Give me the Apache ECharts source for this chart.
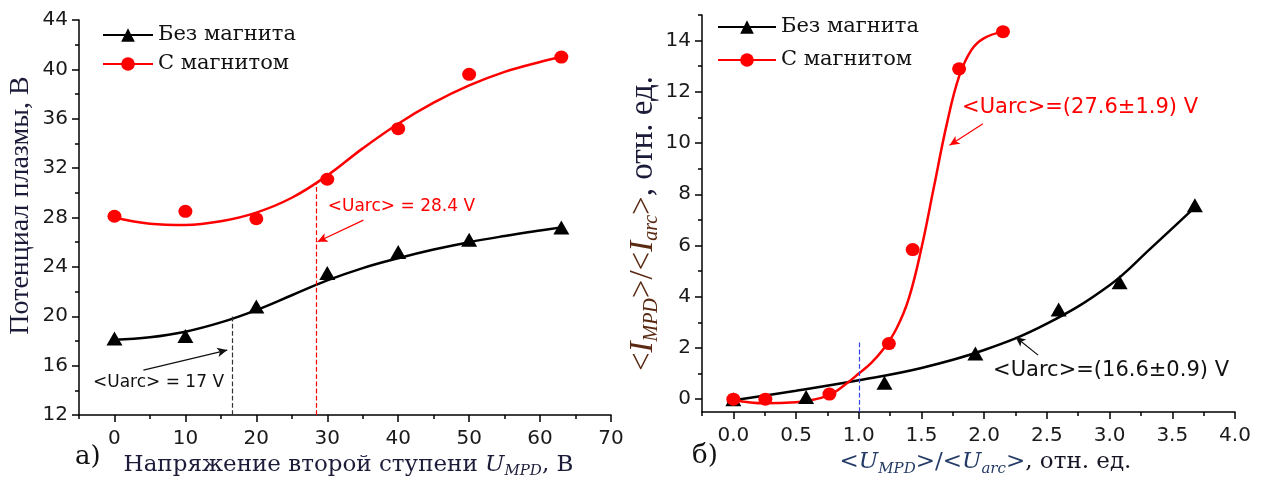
<!DOCTYPE html>
<html><head><meta charset="utf-8">
<script src="https://cdn.jsdelivr.net/npm/echarts@6/dist/echarts.min.js"></script>
<style>html,body{margin:0;padding:0;background:#fff}#c{width:1270px;height:486px}</style>
</head><body><div id="c"></div>
<script>
// ---------- Panel а) ----------
const leftX = [0, 10, 20, 30, 40, 50, 63];
const leftNoMagnet = [18.2, 18.4, 20.8, 23.5, 25.2, 26.2, 27.2];
const leftMagnet = [28.1, 28.5, 27.9, 31.1, 35.2, 39.6, 41.0];
const leftFitX = [0, 5, 10, 15, 20, 25, 30, 35, 40, 45, 50, 55, 60, 63];
const leftFitNoMagnet = [18.1, 18.3, 18.75, 19.5, 20.5, 21.7, 22.9, 23.9, 24.7, 25.4, 26.0, 26.5, 26.95, 27.2];
const leftFitMagnet = [28.0, 27.5, 27.4, 27.7, 28.4, 29.6, 31.4, 33.6, 35.6, 37.3, 38.7, 39.8, 40.6, 41.0];
const leftXTicks = [0, 10, 20, 30, 40, 50, 60, 70];
const leftXMinor = [-5, 5, 15, 25, 35, 45, 55, 65];
const leftYTicks = [12, 16, 20, 24, 28, 32, 36, 40, 44];
const leftYMinor = [14, 18, 22, 26, 30, 34, 38, 42];

// ---------- Panel б) ----------
const rightNoMagnetX = [0, 0.58, 1.205, 1.93, 2.594, 3.08, 3.68];
const rightNoMagnetY = [0.0, 0.09, 0.64, 1.78, 3.50, 4.57, 7.57];
const rightMagnetX = [0, 0.255, 0.766, 1.24, 1.43, 1.80, 2.15];
const rightMagnetY = [0.0, 0.0, 0.2, 2.17, 5.84, 12.9, 14.35];
const rightFitNoMagnetX = [-0.05, 0.5, 1.0, 1.5, 2.0, 2.5, 3.0, 3.33, 3.66];
const rightFitNoMagnetY = [-0.08, 0.33, 0.74, 1.22, 1.92, 2.95, 4.45, 5.9, 7.4];
const rightFitMagnetX = [0, 0.25, 0.5, 0.6, 0.7, 0.8, 0.9, 1.0, 1.1, 1.2, 1.3, 1.4, 1.5, 1.6, 1.7, 1.8, 1.9, 2.0, 2.15];
const rightFitMagnetY = [-0.03, -0.16, -0.12, -0.05, 0.05, 0.25, 0.6, 1.0, 1.42, 1.98, 2.75, 3.95, 5.9, 8.3, 10.7, 12.6, 13.65, 14.1, 14.35];
const rightXTicks = [0, 0.5, 1.0, 1.5, 2.0, 2.5, 3.0, 3.5, 4.0];
const rightXMinor = [-0.25, 0.25, 0.75, 1.25, 1.75, 2.25, 2.75, 3.25, 3.75];
const rightYTicks = [0, 2, 4, 6, 8, 10, 12, 14];
const rightYMinor = [1, 3, 5, 7, 9, 11, 13, 15];

const NAME_NO = 'Без магнита';
const NAME_MAG = 'С магнитом';

const zip = (xs, ys) => xs.map((x, i) => [x, ys[i]]);

const AX = {color: '#000', width: 1.5};
const LBL = {fontFamily: 'DejaVu Sans', fontSize: 20, color: '#1a1a1a'};

function mainAxis(grid, min, max, ticks, dec, margin, extra) {
  return Object.assign({
    gridIndex: grid, type: 'value', min: min, max: max,
    axisLine: {show: true, onZero: false, lineStyle: AX},
    axisTick: {show: true, customValues: ticks, length: 7, lineStyle: AX},
    axisLabel: Object.assign({customValues: ticks, margin: margin,
      formatter: v => dec ? v.toFixed(1) : String(Math.round(v))}, LBL),
    splitLine: {show: false}
  }, extra);
}
function minorAxis(grid, min, max, ticks, pos) {
  return {
    gridIndex: grid, type: 'value', min: min, max: max, position: pos,
    axisLine: {show: false, onZero: false},
    axisTick: {show: true, customValues: ticks, length: 4, lineStyle: AX},
    axisLabel: {show: false}, splitLine: {show: false}
  };
}

const navy = '#1c1c3a';
const option = {
  backgroundColor: '#fff',
  animation: false,
  title: [
    {text: 'а)', left: 70, top: 439, textStyle: {fontFamily: 'DejaVu Serif', fontSize: 26, fontWeight: 'normal', color: '#111'}},
    {text: 'б)', left: 687, top: 438, textStyle: {fontFamily: 'DejaVu Serif', fontSize: 26, fontWeight: 'normal', color: '#111'}}
  ],
  grid: [
    {left: 79, top: 20, width: 532, height: 395},
    {left: 702, top: 15, width: 533, height: 397}
  ],
  legend: [
    {left: 102, top: 24, padding: 0, orient: 'vertical', itemWidth: 50, itemHeight: 17, itemGap: 7,
     data: [NAME_NO, NAME_MAG], textStyle: {fontFamily: 'DejaVu Serif', fontSize: 21, color: '#111', lineHeight: 22}},
    {left: 717, top: 16, padding: 0, orient: 'vertical', itemWidth: 58, itemHeight: 17, itemGap: 11,
     data: [NAME_NO, NAME_MAG], textStyle: {fontFamily: 'DejaVu Serif', fontSize: 21, color: '#111', lineHeight: 22}}
  ],
  xAxis: [
    mainAxis(0, -5, 70, leftXTicks, false, 14, {position: 'bottom',
      name: '{t|Напряжение второй ступени }{i|U}{s|MPD}{t|, В}',
      nameLocation: 'middle', nameGap: 35,
      nameTextStyle: {padding: [0, 0, 0, 7], rich: {
        t: {fontFamily: 'DejaVu Serif', fontSize: 23, color: navy},
        i: {fontFamily: 'DejaVu Serif', fontStyle: 'italic', fontSize: 23, color: navy},
        s: {fontFamily: 'DejaVu Serif', fontStyle: 'italic', fontSize: 15, color: navy, padding: [12, 0, 0, 0]}
      }}}),
    minorAxis(0, -5, 70, leftXMinor, 'bottom'),
    mainAxis(1, -0.25, 4.0, rightXTicks, true, 14, {position: 'bottom',
      name: '{u|<}{i|U}{s|MPD}{u|>/<}{i|U}{s|arc}{u|>}{t|, отн. ед.}',
      nameLocation: 'middle', nameGap: 35,
      nameTextStyle: {padding: [0, 0, 0, 34], rich: {
        t: {fontFamily: 'DejaVu Serif', fontSize: 23, color: '#151525'},
        u: {fontFamily: 'DejaVu Serif', fontSize: 23, color: '#243a66'},
        i: {fontFamily: 'DejaVu Serif', fontStyle: 'italic', fontSize: 23, color: '#243a66'},
        s: {fontFamily: 'DejaVu Serif', fontStyle: 'italic', fontSize: 15, color: '#243a66', padding: [14, 0, 0, 0]}
      }}}),
    minorAxis(1, -0.25, 4.0, rightXMinor, 'bottom')
  ],
  yAxis: [
    mainAxis(0, 12, 44, leftYTicks, false, 11, {position: 'left',
      name: 'Потенциал плазмы, В', nameLocation: 'middle', nameGap: 44, nameRotate: 90,
      nameTextStyle: {fontFamily: 'Liberation Serif', fontSize: 28, color: navy, padding: [0, 0, 0, 24]}}),
    minorAxis(0, 12, 44, leftYMinor, 'left'),
    mainAxis(1, -0.5, 15, rightYTicks, false, 11, {position: 'left',
      name: '{u|<}{i|I}{s|MPD}{u|>/<}{i|I}{s|arc}{u|>}{t|, отн. ед.}',
      nameLocation: 'middle', nameGap: 38, nameRotate: 90,
      nameTextStyle: {padding: [0, 20, 0, 0], rich: {
        t: {fontFamily: 'Liberation Serif', fontSize: 33, color: '#1c1c3a'},
        u: {fontFamily: 'Liberation Serif', fontSize: 33, color: '#5a2a12'},
        i: {fontFamily: 'Liberation Serif', fontStyle: 'italic', fontSize: 33, color: '#5a2a12'},
        s: {fontFamily: 'Liberation Serif', fontStyle: 'italic', fontSize: 20, color: '#5a2a12', padding: [16, 0, 0, 0]}
      }}}),
    minorAxis(1, -0.5, 15, rightYMinor, 'left')
  ],
  series: []
};

function annText(coord, text, color, size) {
  return {coord: coord, symbol: 'circle', symbolSize: 1, itemStyle: {color: 'rgba(0,0,0,0)'},
    label: {show: true, position: 'right', distance: 0, formatter: text, color: color,
      fontFamily: 'DejaVu Sans', fontSize: size}};
}
function arrow(from, to) {
  return [{coord: from, symbol: 'none'}, {coord: to, symbol: 'arrow', symbolSize: [7, 10]}];
}
function vline(x, y0, y1) {
  return [{coord: [x, y0], symbol: 'none'}, {coord: [x, y1], symbol: 'none'}];
}

function panelSeries(xi, yi, fitNo, ptsNo, fitMag, ptsMag, noMarks, magMarks) {
  return [
    {name: NAME_NO, type: 'line', xAxisIndex: xi, yAxisIndex: yi, data: fitNo, smooth: 0.4,
     symbol: 'triangle', symbolSize: [16, 14], showSymbol: false, color: '#000',
     lineStyle: {color: '#000', width: 2.5}, itemStyle: {color: '#000'}, z: 3,
     markLine: noMarks.line, markPoint: noMarks.point},
    {name: NAME_NO, type: 'scatter', xAxisIndex: xi, yAxisIndex: yi, data: ptsNo,
     symbol: 'triangle', symbolSize: [16, 14], itemStyle: {color: '#000', opacity: 1}, z: 4},
    {name: NAME_MAG, type: 'line', xAxisIndex: xi, yAxisIndex: yi, data: fitMag, smooth: 0.4,
     symbol: 'circle', symbolSize: 13, showSymbol: false, color: '#ff0000',
     lineStyle: {color: '#ff0000', width: 2.5}, itemStyle: {color: '#ff0000'}, z: 3,
     markLine: magMarks.line, markPoint: magMarks.point},
    {name: NAME_MAG, type: 'scatter', xAxisIndex: xi, yAxisIndex: yi, data: ptsMag,
     symbol: 'circle', symbolSize: [14, 13], itemStyle: {color: '#ff0000', opacity: 1}, z: 4}
  ];
}
const mlBase = (color, data, type) => ({silent: true, animation: false, symbol: ['none', 'none'],
  label: {show: false}, lineStyle: {color: color, width: 1.2, type: type || 'solid'}, data: data});

const leftSeries = panelSeries(0, 0,
  zip(leftFitX, leftFitNoMagnet), zip(leftX, leftNoMagnet),
  zip(leftFitX, leftFitMagnet), zip(leftX, leftMagnet),
  {line: mlBase('#333', [vline(16.6, 12, 20.0)], 'dashed'),
   point: {silent: true, animation: false, data: [annText([-3.1, 14.66], '<Uarc> = 17 V', '#111', 17)]}},
  {line: mlBase('#ff0000', [vline(28.4, 12, 30.8)], 'dashed'),
   point: {silent: true, animation: false, data: [annText([30.0, 28.9], '<Uarc> = 28.4 V', '#ff0000', 17)]}}
);
leftSeries[1].markLine = mlBase('#111', [arrow([4.08, 15.64], [15.9, 17.26])]);
leftSeries[3].markLine = mlBase('#ff0000', [arrow([35.1, 27.79], [28.63, 26.03])]);

const rightSeries = panelSeries(2, 2,
  zip(rightFitNoMagnetX, rightFitNoMagnetY), zip(rightNoMagnetX, rightNoMagnetY),
  zip(rightFitMagnetX, rightFitMagnetY), zip(rightMagnetX, rightMagnetY),
  {line: mlBase('#111', [arrow([2.43, 1.72], [2.25, 2.43])]),
   point: {silent: true, animation: false, data: [annText([2.067, 1.13], '<Uarc>=(16.6±0.9) V', '#111', 21)]}},
  {line: mlBase('#ff0000', [arrow([1.99, 10.75], [1.724, 9.91])]),
   point: {silent: true, animation: false, data: [annText([1.82, 11.39], '<Uarc>=(27.6±1.9) V', '#ff0000', 21)]}}
);
rightSeries[1].markLine = mlBase('#3344ee', [vline(1.0, -0.5, 2.3)], 'dashed');

option.series = leftSeries.concat(rightSeries);

const chart = echarts.init(document.getElementById('c'), null, {renderer: 'canvas'});
chart.setOption(option);
</script></body></html>
